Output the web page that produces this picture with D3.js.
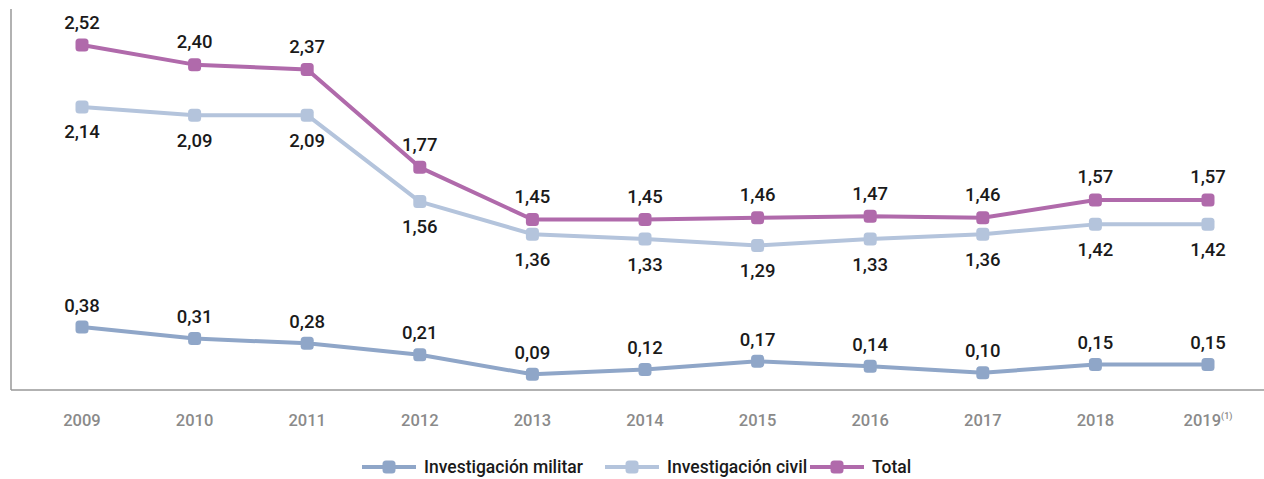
<!DOCTYPE html>
<html>
<head>
<meta charset="utf-8">
<script src="https://cdn.jsdelivr.net/npm/d3@7"></script>
<style>
  body { margin: 0; background: #fff; }
  svg { display: block; font-family: Roboto, "DejaVu Sans", sans-serif; }
</style>
</head>
<body>
<div id="chart"></div>
<script>
const width = 1264;
const height = 479;

// data
const years = ["2009", "2010", "2011", "2012", "2013", "2014", "2015", "2016", "2017", "2018", "2019"];
const militar = [0.38, 0.31, 0.28, 0.21, 0.09, 0.12, 0.17, 0.14, 0.10, 0.15, 0.15];
const civil = [2.14, 2.09, 2.09, 1.56, 1.36, 1.33, 1.29, 1.33, 1.36, 1.42, 1.42];
const total = [2.52, 2.40, 2.37, 1.77, 1.45, 1.45, 1.46, 1.47, 1.46, 1.57, 1.57];
const seriesNames = ["Investigación militar", "Investigación civil", "Total"];

const colors = ["#8fa6c8", "#b4c4dc", "#b06aab"];

const svg = d3.select("#chart").append("svg")
  .attr("width", width)
  .attr("height", height);

const axisLeftX = 11;
const axisBottomY = 390;

const x = d3.scalePoint().domain(years).range([82, 1208]);

// military on its own scale, civil/total on a shifted one
const yMil = d3.scaleLinear().domain([0, 2.3]).range([389, 389 - 2.3 * 163]);
const yMain = d3.scaleLinear().domain([0.41, 2.71]).range([389, 389 - 2.3 * 163]);

// axis frame
svg.append("line")
  .attr("x1", axisLeftX).attr("x2", axisLeftX)
  .attr("y1", 9).attr("y2", axisBottomY)
  .attr("stroke", "#999").attr("stroke-width", 1.5);
svg.append("line")
  .attr("x1", axisLeftX).attr("x2", width)
  .attr("y1", axisBottomY).attr("y2", axisBottomY)
  .attr("stroke", "#999").attr("stroke-width", 1.5);

// x tick labels
const ticks = svg.append("g").selectAll("text")
  .data(years)
  .join("text")
  .attr("x", d => x(d))
  .attr("y", 426)
  .attr("text-anchor", "middle")
  .attr("fill", "#8a8a8a")
  .attr("font-size", 16.5)
  .attr("font-weight", 500)
  .text(d => d);
ticks.filter(d => d === "2019")
  .append("tspan")
  .attr("font-size", 9)
  .attr("dy", -7)
  .text("(1)");

const series = [
  { values: militar, scale: yMil, color: colors[0], labelDy: -22 },
  { values: civil, scale: yMain, color: colors[1], labelDy: 25 },
  { values: total, scale: yMain, color: colors[2], labelDy: -23 }
];

const fmt = v => d3.format(".2f")(v).replace(".", ",");

series.forEach(s => {
  const line = d3.line()
    .x((d, i) => x(years[i]))
    .y(d => s.scale(d));

  svg.append("path")
    .datum(s.values)
    .attr("fill", "none")
    .attr("stroke", s.color)
    .attr("stroke-width", 4)
    .attr("stroke-linejoin", "round")
    .attr("d", line);

  svg.append("g").selectAll("rect")
    .data(s.values)
    .join("rect")
    .attr("x", (d, i) => x(years[i]) - 6.5)
    .attr("y", d => s.scale(d) - 6.5)
    .attr("width", 13)
    .attr("height", 13)
    .attr("rx", 3.5)
    .attr("fill", s.color);

  svg.append("g").selectAll("text")
    .data(s.values)
    .join("text")
    .attr("x", (d, i) => x(years[i]))
    .attr("y", d => s.scale(d) + s.labelDy)
    .attr("dy", "0.35em")
    .attr("text-anchor", "middle")
    .attr("fill", "#1a1a1a")
    .attr("font-size", 18.5)
    .attr("font-weight", 500)
    .text(d => fmt(d));
});

// legend
const legendItems = [
  { name: seriesNames[0], color: colors[0], x: 362 },
  { name: seriesNames[1], color: colors[1], x: 605 },
  { name: seriesNames[2], color: colors[2], x: 810 }
];
const legend = svg.append("g").attr("transform", "translate(0,467)");
legendItems.forEach(d => {
  const g = legend.append("g").attr("transform", `translate(${d.x},0)`);
  g.append("line")
    .attr("x1", 0).attr("x2", 54)
    .attr("y1", 0).attr("y2", 0)
    .attr("stroke", d.color).attr("stroke-width", 4);
  g.append("rect")
    .attr("x", 27 - 6.5).attr("y", -6.5)
    .attr("width", 13).attr("height", 13)
    .attr("rx", 3.5)
    .attr("fill", d.color);
  g.append("text")
    .attr("x", 62).attr("y", 0)
    .attr("dy", "0.35em")
    .attr("fill", "#1a1a1a")
    .attr("font-size", 17.5)
    .attr("font-weight", 500)
    .text(d.name);
});
</script>
</body>
</html>
